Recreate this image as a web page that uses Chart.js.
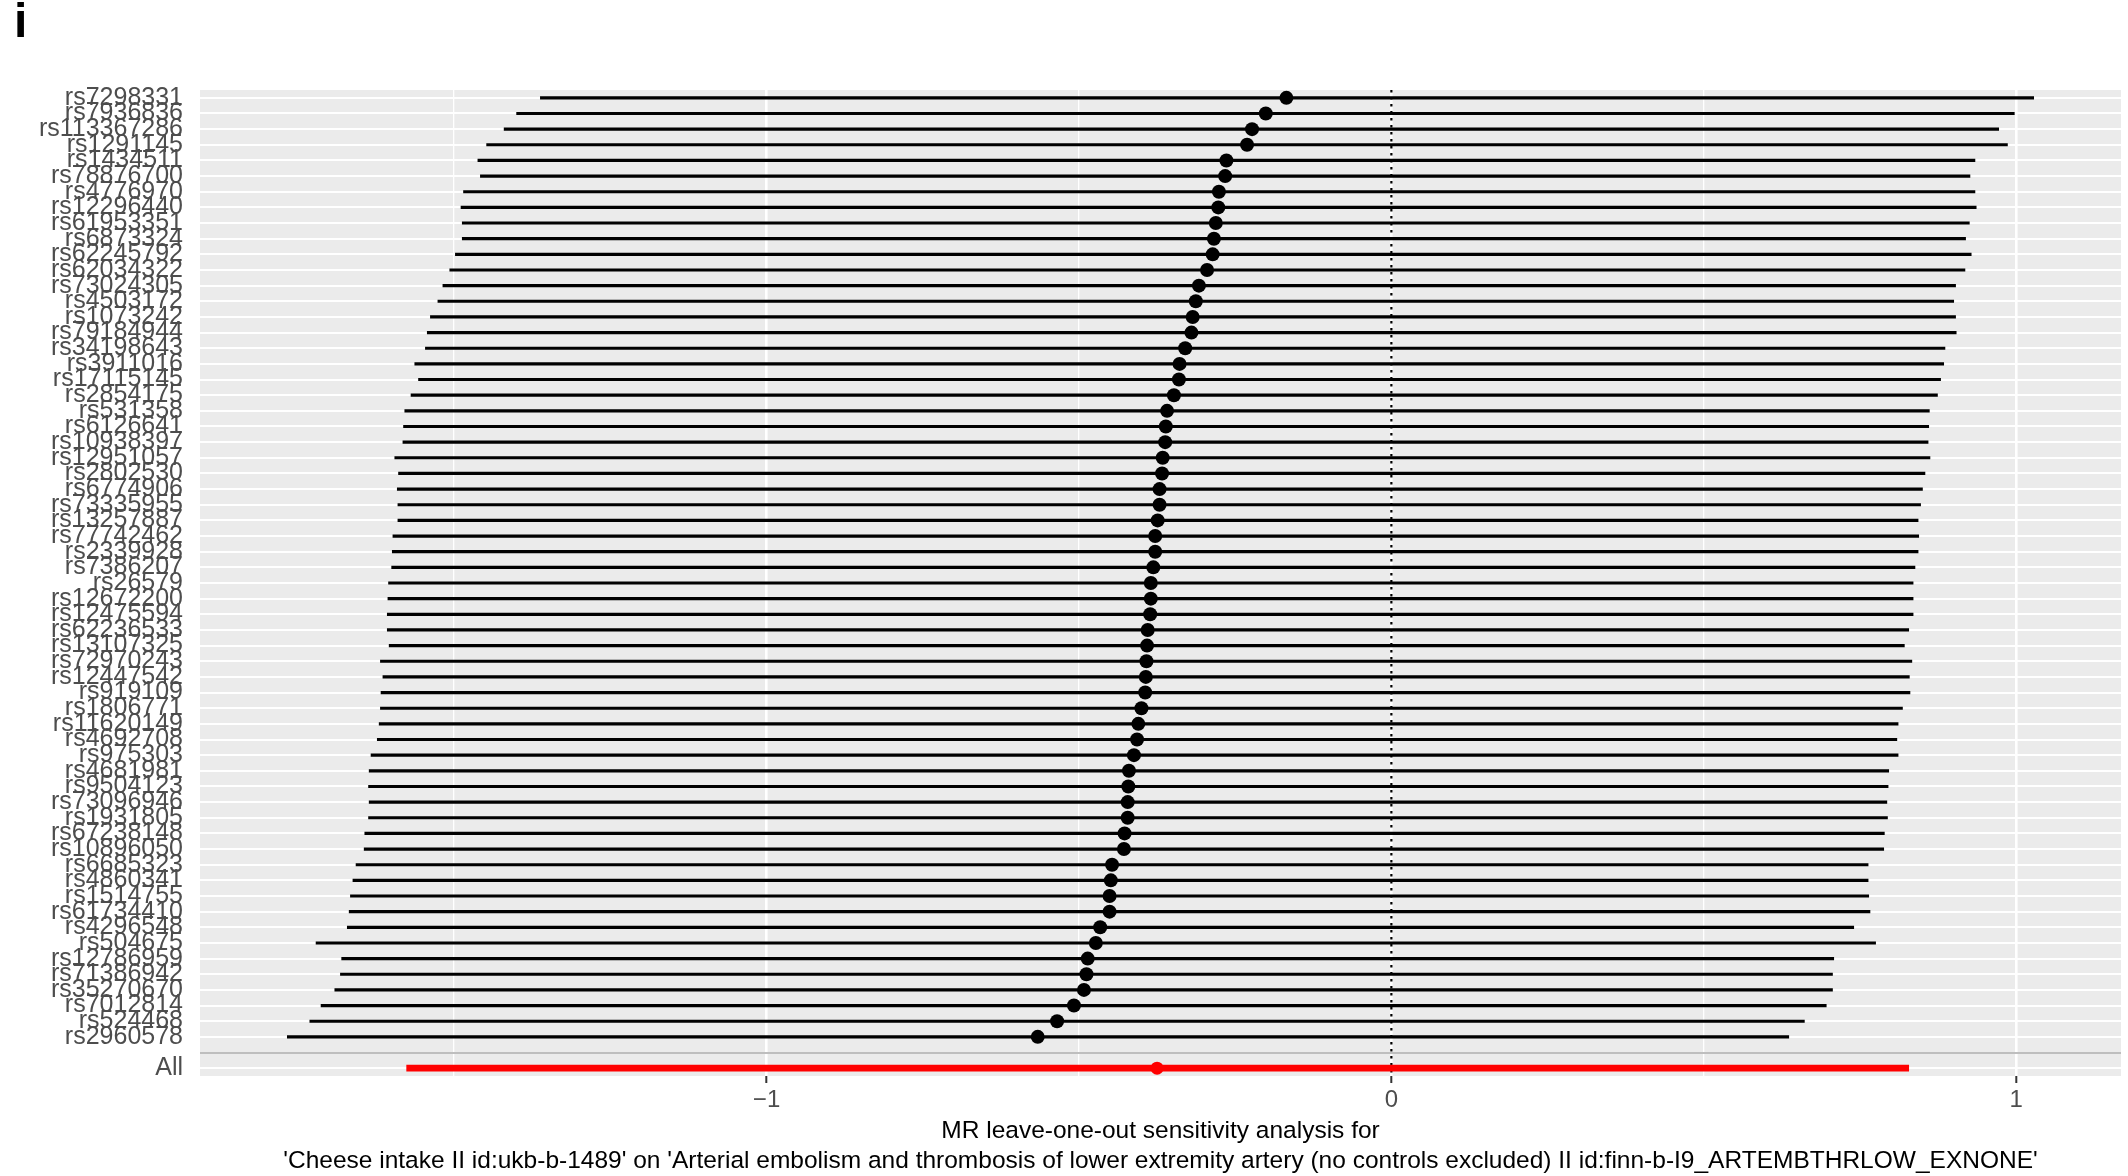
<!DOCTYPE html>
<html lang="en"><head>
<title>MR leave-one-out</title>
<meta charset="utf-8">
<style type="text/css">
body { margin:0; background:#ffffff; }
#chart1 { width:2128px; height:1176px; }
</style>
<script src="https://cdn.jsdelivr.net/npm/chart.js"></script>
<script>
// leave-one-out estimates, top row first
snps=["rs7298331","rs7936836","rs113367286","rs1291145","rs1434511","rs78876700","rs4776970","rs12296440","rs61953351","rs6873324",
  "rs62245792","rs62034322","rs73024305","rs4503172","rs1073242","rs79184944","rs34198643","rs3911016","rs17115145","rs2854175",
  "rs531358","rs6126641","rs10938397","rs12951057","rs2802530","rs6774906","rs73335955","rs13257887","rs77742462","rs2339928",
  "rs7386207","rs26579","rs12672200","rs12475594","rs62236533","rs13107325","rs72970243","rs12447542","rs919109","rs1806771",
  "rs11620149","rs4692708","rs975303","rs4681981","rs9504123","rs73096946","rs1931805","rs67238148","rs10896050","rs6685323",
  "rs4860341","rs1514755","rs61734410","rs4296548","rs504675","rs12786959","rs71386942","rs35270670","rs7012814","rs524468",
  "rs2960578"];
est=[-0.168,-0.201,-0.223,-0.231,-0.264,-0.266,-0.276,-0.277,-0.281,-0.284,
  -0.286,-0.295,-0.308,-0.313,-0.318,-0.320,-0.330,-0.339,-0.340,-0.348,
  -0.359,-0.361,-0.362,-0.366,-0.367,-0.371,-0.371,-0.374,-0.378,-0.378,
  -0.381,-0.385,-0.385,-0.386,-0.390,-0.391,-0.392,-0.393,-0.394,-0.400,
  -0.405,-0.407,-0.412,-0.420,-0.421,-0.422,-0.422,-0.427,-0.428,-0.447,
  -0.449,-0.451,-0.451,-0.466,-0.473,-0.486,-0.488,-0.492,-0.508,-0.535,
  -0.566];
lo=[-1.362,-1.400,-1.420,-1.448,-1.462,-1.458,-1.485,-1.489,-1.487,-1.487,
  -1.498,-1.507,-1.518,-1.526,-1.538,-1.543,-1.546,-1.563,-1.557,-1.569,
  -1.579,-1.581,-1.582,-1.595,-1.589,-1.591,-1.590,-1.590,-1.598,-1.599,
  -1.600,-1.605,-1.606,-1.607,-1.607,-1.604,-1.618,-1.614,-1.617,-1.618,
  -1.620,-1.623,-1.633,-1.636,-1.637,-1.636,-1.637,-1.643,-1.644,-1.657,
  -1.662,-1.666,-1.668,-1.671,-1.721,-1.680,-1.682,-1.691,-1.713,-1.731,
  -1.767];
hi=[1.028,0.997,0.972,0.986,0.934,0.926,0.934,0.936,0.925,0.919,
  0.928,0.918,0.903,0.900,0.903,0.904,0.886,0.884,0.879,0.874,
  0.861,0.860,0.859,0.862,0.854,0.850,0.847,0.843,0.844,0.843,
  0.838,0.835,0.835,0.835,0.828,0.821,0.833,0.829,0.830,0.818,
  0.811,0.809,0.811,0.796,0.795,0.793,0.794,0.789,0.788,0.763,
  0.763,0.764,0.766,0.740,0.775,0.708,0.706,0.706,0.696,0.661,
  0.636];
allEst=-0.375; allLo=-1.576; allHi=0.828;
xBreaks=[-1.5,-1,-0.5,0,0.5,1];
refValue=0;
titleLines=["MR leave-one-out sensitivity analysis for",
  "'Cheese intake II id:ukb-b-1489' on 'Arterial embolism and thrombosis of lower extremity artery (no controls excluded) II id:finn-b-I9_ARTEMBTHRLOW_EXNONE'"];

FONT="'Liberation Sans', Arial, sans-serif";

panelPlugin={id:'panel',
  beforeDraw:function(chart) {
    a=chart.chartArea; c=chart.ctx;
    c.save(); c.fillStyle="#ebebeb";
    c.fillRect(a.left,a.top,a.right-a.left,a.bottom-a.top); c.restore(); },
  beforeDatasetsDraw:function(chart) {
    a=chart.chartArea; c=chart.ctx; px=chart.scales.x.getPixelForValue(refValue);
    c.save(); c.strokeStyle="#000000"; c.lineWidth=2.2; c.setLineDash([2.5,4.5]);
    c.beginPath(); c.moveTo(px,a.top); c.lineTo(px,a.bottom); c.stroke(); c.restore(); } };

function initChart() {
  labels=snps.concat(["","All"]);
  blankIndex=snps.length;
  pad=function(n){ return new Array(n).fill(null); };

  ciData=snps.map(function(s,i){ return [lo[i],hi[i]]; }).concat(pad(2));
  allCi=pad(snps.length+1).concat([[allLo,allHi]]);
  ptData=est.concat(pad(2));
  allPt=pad(snps.length+1).concat([allEst]);

  span=Math.max.apply(null,hi)-Math.min.apply(null,lo);
  xMin=Math.min.apply(null,lo)-0.05*span; xMax=Math.max.apply(null,hi)+0.05*span;

  config={type:'bar',data:{labels:labels,datasets:[
    {type:'bar',data:ciData,backgroundColor:'#000000',barThickness:2.5,grouped:false,borderWidth:0},
    {type:'bar',data:allCi,backgroundColor:'#ff0000',barThickness:6,grouped:false,borderWidth:0},
    {type:'line',data:ptData,showLine:false,pointRadius:7,pointBackgroundColor:'#000000',pointBorderWidth:0},
    {type:'line',data:allPt,showLine:false,pointRadius:6.5,pointBackgroundColor:'#ff0000',pointBorderWidth:0}]},
  options:{indexAxis:'y',animation:false,responsive:true,maintainAspectRatio:false,
    layout:{padding:{left:14,right:0,top:0,bottom:0}},
    plugins:{legend:{display:false},tooltip:{enabled:false},
      title:{display:true,text:'i',align:'start',color:'#000000',
        font:{family:FONT,size:48,weight:'bold',lineHeight:1},padding:{top:0,bottom:42}}},
    scales:{
      x:{type:'linear',min:xMin,max:xMax,border:{display:false},
        afterBuildTicks:function(s){ s.ticks=xBreaks.map(function(v){ return {value:v}; }); },
        afterFit:function(s){ s.height=100; },
        grid:{color:'#ffffff',
          lineWidth:function(ctx){ return Number.isInteger(ctx.tick.value)?2.6:1.3; },
          tickColor:function(ctx){ return Number.isInteger(ctx.tick.value)?'#333333':'rgba(0,0,0,0)'; },
          tickLength:7,tickWidth:2},
        ticks:{autoSkip:false,maxRotation:0,color:'#4d4d4d',padding:3,font:{family:FONT,size:24},
          callback:function(v){ return Number.isInteger(v)?String(v).replace('-','\u2212'):''; }},
        title:{display:true,text:titleLines,color:'#000000',
          font:{family:FONT,size:24.5,lineHeight:1.22},padding:{top:4,bottom:0}}},
      y:{type:'category',offset:true,border:{display:false},
        afterFit:function(s){ s.width=186; },
        grid:{offset:false,drawTicks:false,lineWidth:2,
          color:function(ctx){ return ctx.index===blankIndex?'#bebebe':'#ffffff'; }},
        ticks:{autoSkip:false,color:'#4d4d4d',padding:17,font:{family:FONT,size:25}}}}}};

  myChart=new Chart(document.getElementById('myChart'),config,[]);
}
</script></head>
<body onload="initChart();">
<div id="chart1">
  <canvas id="myChart"></canvas>
</div>
<script>Chart.register(panelPlugin);</script>
</body></html>
